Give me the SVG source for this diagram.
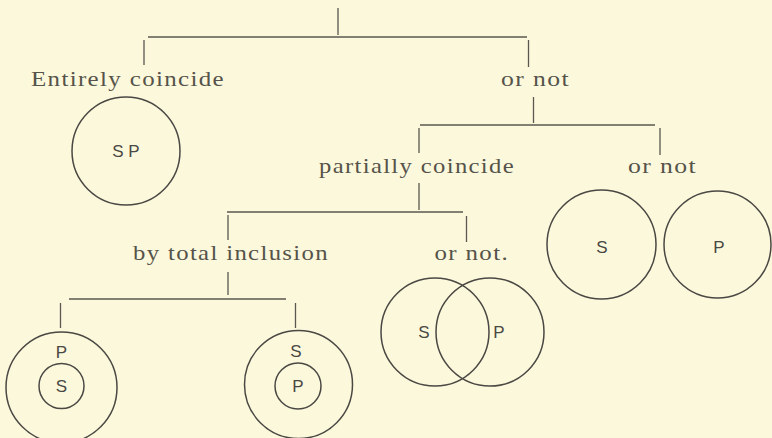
<svg xmlns="http://www.w3.org/2000/svg" width="772" height="438" viewBox="0 0 772 438">
<defs>
<style>
.bg{fill:#fcf8dc}
.ln{stroke:#5a5850;stroke-width:1.3;fill:none}
.c{stroke:#4a4843;stroke-width:1.5;fill:none}
.lbl{font-family:"Liberation Serif","Times New Roman",serif;font-size:22px;letter-spacing:1.2px;fill:#55534a}
.l{font-family:"Liberation Sans",Arial,sans-serif;font-size:17px;fill:#4a4843;text-anchor:middle;dominant-baseline:central}
</style>
</defs>
<rect class="bg" x="0" y="0" width="772" height="438"/>
<g id="connectors">
<path class="ln" d="M338 8V35M148 37H527M144 40V65M528.5 40V67"/>
<path class="ln" d="M533.5 97V123M420 125H655M419 128V153M660 128V155"/>
<path class="ln" d="M419 183V210M227 212H463M228 215V240M466.5 216V242"/>
<path class="ln" d="M228 272V295M69 299H286M60.5 303V328M295.5 303V328"/>
</g>
<g id="entirely">
<text class="lbl" x="31" y="86" textLength="194" lengthAdjust="spacingAndGlyphs">Entirely coincide</text>
<circle class="c" cx="126" cy="151" r="54"/>
<text class="l" x="126" y="151">S P</text>
</g>
<g id="ornot1">
<text class="lbl" x="501" y="86" textLength="69" lengthAdjust="spacingAndGlyphs">or not</text>
</g>
<g id="partially">
<text class="lbl" x="319" y="173" textLength="196" lengthAdjust="spacingAndGlyphs">partially coincide</text>
</g>
<g id="ornot2">
<text class="lbl" x="628" y="173" textLength="69" lengthAdjust="spacingAndGlyphs">or not</text>
<circle class="c" cx="601.5" cy="244.5" r="54.5"/>
<text class="l" x="602" y="247">S</text>
<circle class="c" cx="717.5" cy="244.5" r="53.5"/>
<text class="l" x="719" y="247">P</text>
</g>
<g id="inclusion">
<text class="lbl" x="133" y="260" textLength="196" lengthAdjust="spacingAndGlyphs">by total inclusion</text>
</g>
<g id="ornot3">
<text class="lbl" x="434.5" y="260" textLength="74.5" lengthAdjust="spacingAndGlyphs">or not.</text>
<circle class="c" cx="435" cy="332" r="54"/>
<circle class="c" cx="490" cy="332" r="54"/>
<text class="l" x="424" y="332">S</text>
<text class="l" x="499" y="332">P</text>
</g>
<g id="sinp">
<circle class="c" cx="61.5" cy="387.5" r="55.5"/>
<text class="l" x="61.5" y="352">P</text>
<circle class="c" cx="61.5" cy="386" r="22.5"/>
<text class="l" x="61.5" y="386">S</text>
</g>
<g id="pins">
<circle class="c" cx="298.5" cy="384.5" r="54"/>
<text class="l" x="296" y="351">S</text>
<circle class="c" cx="298" cy="386" r="23"/>
<text class="l" x="298" y="386">P</text>
</g>
</svg>
